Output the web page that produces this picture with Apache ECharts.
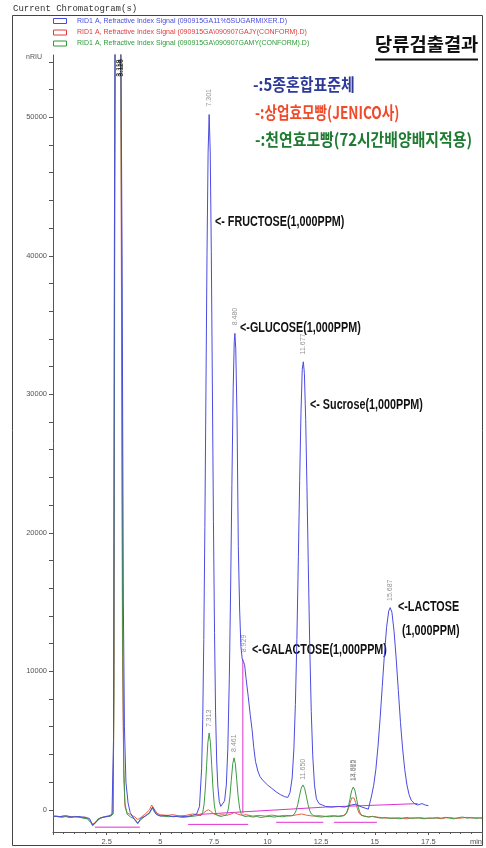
<!DOCTYPE html>
<html><head><meta charset="utf-8">
<script src="https://cdn.jsdelivr.net/npm/echarts@6/dist/echarts.min.js"></script>
<style>html,body{margin:0;padding:0;background:#fff}#c{width:486px;height:848px}</style>
</head><body><div id="c"></div>
<script>
// ---- axis ticks / labels ----
const yLabelValues = [0, 10000, 20000, 30000, 40000, 50000];
const yTickValues = [0,2000,4000,6000,8000,10000,12000,14000,16000,18000,20000,22000,24000,26000,28000,30000,32000,34000,36000,38000,40000,42000,44000,46000,48000,50000,52000,54000];

// ---- signals [time(min), nRIU] ----
const blueSignal = [[0,-450],[0.3,-500],[0.6,-420],[0.9,-520],[1.2,-480],[1.5,-550],[1.7,-620],[1.85,-1100],[2.0,-900],[2.2,-600],[2.4,-500],[2.6,-450],[2.75,-300],[2.82,5000],[2.86,40000],[2.9,60000],[3.15,60000],[3.22,40000],[3.28,15000],[3.33,6000],[3.4,2000],[3.5,500],[3.6,-200],[3.8,-700],[3.95,-1000],[4.1,-600],[4.3,-450],[4.5,-200],[4.65,200],[4.8,-300],[5.0,-450],[5.3,-400],[5.6,-500],[5.9,-450],[6.2,-500],[6.5,-400],[6.7,-300],[6.83,250],[6.93,3000],[6.98,6500],[7.03,12300],[7.08,20400],[7.13,30300],[7.18,40100],[7.23,47400],[7.28,50200],[7.33,47500],[7.38,40300],[7.43,30600],[7.48,20800],[7.53,12800],[7.58,7000],[7.63,3600],[7.68,1800],[7.75,600],[7.82,250],[7.9,300],[8.0,650],[8.08,1800],[8.15,4400],[8.22,9500],[8.28,15800],[8.34,23500],[8.4,30400],[8.45,33800],[8.48,34400],[8.52,33300],[8.58,28300],[8.64,19000],[8.7,14500],[8.76,11800],[8.82,10900],[8.87,10900],[8.93,10500],[9.0,9500],[9.1,8200],[9.2,6800],[9.28,5800],[9.36,4500],[9.44,3500],[9.55,2800],[9.65,2400],[9.8,2100],[10.0,1800],[10.2,1550],[10.4,1300],[10.6,1100],[10.8,950],[10.95,900],[11.05,1250],[11.15,2300],[11.23,4400],[11.3,7600],[11.37,12300],[11.44,18300],[11.5,23800],[11.56,28600],[11.62,31800],[11.67,32350],[11.72,31500],[11.78,28200],[11.84,23300],[11.9,17800],[11.97,11800],[12.04,7100],[12.11,3900],[12.19,1800],[12.28,800],[12.4,450],[12.55,350],[12.7,250],[13.0,200],[13.3,250],[13.6,200],[13.9,350],[14.1,400],[14.4,200],[14.7,50],[14.85,1000],[14.95,1770],[15.05,2900],[15.15,4550],[15.25,6600],[15.35,8900],[15.45,11200],[15.55,13150],[15.65,14350],[15.72,14600],[15.8,14270],[15.9,12900],[16.0,10900],[16.1,8600],[16.2,6300],[16.3,4400],[16.4,2900],[16.5,1800],[16.6,1100],[16.7,700],[16.85,450],[17.0,350],[17.2,450],[17.35,350],[17.5,300]];

const redSignal = [[0,-420],[0.25,-500],[0.5,-450],[0.75,-530],[1.0,-470],[1.25,-550],[1.5,-520],[1.7,-700],[1.85,-1050],[2.0,-850],[2.2,-600],[2.45,-480],[2.7,-420],[2.8,-250],[2.85,10000],[2.88,45000],[2.91,60000],[3.14,60000],[3.19,38000],[3.24,11000],[3.3,2500],[3.36,200],[3.45,-200],[3.6,-350],[3.8,-500],[3.95,-700],[4.1,-550],[4.3,-300],[4.5,0],[4.6,350],[4.7,100],[4.85,-250],[5.0,-350],[5.3,-400],[5.6,-350],[5.9,-450],[6.2,-400],[6.5,-300],[6.8,-350],[7.0,-250],[7.15,-50],[7.25,0],[7.35,-100],[7.5,-300],[7.7,-400],[7.9,-350],[8.1,-400],[8.3,-300],[8.45,-200],[8.6,-300],[8.8,-400],[9.0,-350],[9.3,-450],[9.6,-400],[9.9,-450],[10.2,-380],[10.5,-450],[10.8,-400],[11.1,-430],[11.4,-350],[11.6,-300],[11.8,-380],[12.1,-450],[12.4,-420],[12.7,-470],[13.0,-420],[13.3,-450],[13.55,-400],[13.62,-370],[13.7,-205],[13.78,125],[13.86,566],[13.93,874],[13.98,950],[14.04,842],[14.11,512],[14.19,75],[14.27,-234],[14.36,-393],[14.5,-450],[14.7,-500],[14.9,-470],[15.1,-520],[15.3,-560],[15.5,-600],[15.7,-580],[15.9,-620],[16.1,-560],[16.3,-620],[16.5,-650],[16.7,-580],[16.9,-600],[17.1,-560],[17.3,-600],[17.5,-620],[17.7,-580],[17.9,-600],[18.1,-640],[18.3,-580],[18.5,-560],[18.7,-600],[18.9,-620],[19.1,-580],[19.3,-540],[19.5,-600],[19.7,-560],[19.9,-600],[20.0,-580]];

const greenSignal = [[0,-500],[0.2,-450],[0.4,-550],[0.6,-480],[0.8,-560],[1.0,-500],[1.2,-520],[1.4,-600],[1.6,-650],[1.75,-900],[1.85,-1150],[1.95,-1000],[2.1,-650],[2.3,-550],[2.5,-500],[2.7,-450],[2.8,-300],[2.84,8000],[2.87,40000],[2.9,60000],[3.15,60000],[3.2,40000],[3.25,12000],[3.3,3000],[3.35,500],[3.45,-300],[3.6,-500],[3.8,-650],[3.95,-950],[4.1,-700],[4.3,-450],[4.5,-250],[4.62,150],[4.75,-200],[4.9,-400],[5.1,-450],[5.4,-500],[5.7,-450],[6.0,-550],[6.3,-500],[6.6,-450],[6.8,-400],[6.9,-410],[6.98,-190],[7.04,360],[7.1,1500],[7.16,3190],[7.22,4850],[7.28,5550],[7.34,4850],[7.4,3190],[7.46,1500],[7.52,360],[7.58,-190],[7.66,-410],[7.75,-450],[7.85,-480],[7.95,-420],[8.05,-400],[8.12,-250],[8.18,120],[8.25,990],[8.31,2100],[8.38,3330],[8.44,3750],[8.5,3330],[8.57,2100],[8.63,990],[8.7,120],[8.76,-250],[8.83,-400],[8.95,-480],[9.1,-450],[9.3,-520],[9.5,-480],[9.7,-550],[9.9,-500],[10.1,-470],[10.3,-520],[10.5,-480],[10.7,-500],[10.9,-450],[11.15,-420],[11.25,-310],[11.33,-70],[11.41,380],[11.49,990],[11.57,1560],[11.65,1800],[11.73,1560],[11.81,990],[11.89,380],[11.97,-70],[12.05,-310],[12.15,-420],[12.3,-480],[12.5,-520],[12.7,-480],[12.9,-500],[13.1,-450],[13.3,-480],[13.5,-450],[13.6,-390],[13.68,-235],[13.76,130],[13.84,740],[13.92,1370],[14.0,1650],[14.08,1370],[14.16,740],[14.24,130],[14.32,-235],[14.4,-390],[14.5,-450],[14.7,-520],[14.9,-480],[15.1,-550],[15.3,-600],[15.5,-550],[15.7,-620],[15.9,-580],[16.1,-650],[16.3,-600],[16.5,-550],[16.7,-620],[16.9,-580],[17.1,-600],[17.3,-650],[17.5,-580],[17.7,-620],[17.9,-560],[18.1,-600],[18.3,-540],[18.5,-600],[18.7,-650],[18.9,-560],[19.1,-520],[19.3,-600],[19.5,-550],[19.7,-620],[19.9,-580],[20.0,-600]];

// ---- integration baselines (magenta) ----
const baseSolvent = [[1.95,-1250],[4.05,-1250]];
const baseGreenFG = [[6.3,-1050],[9.1,-1050]];
const baseBlueMid = [[6.6,-350],[12.7,200]];
const baseBlueLac = [[12.7,200],[17.0,450]];
const dropGalactose = [[8.85,-250],[8.85,10900]];
const baseGreenSuc = [[10.4,-900],[12.6,-900]];
const baseGreen14 = [[13.1,-900],[15.1,-900]];

// ---- peak retention-time labels [time, value, text] ----
const solventPeakLabels = [[3.1,52900,'3.118'],[3.15,52900,'3.126']];
const peakLabels = [[7.29,50600,'7.301'],[8.48,34800,'8.480'],[8.9,11200,'8.929'],[11.67,32700,'11.677'],[15.7,14900,'15.687'],[7.29,5800,'7.313'],[8.44,4000,'8.461'],[11.65,2000,'11.650'],[13.97,1900,'13.985'],[14.02,1900,'14.012']];

// ---- annotations [time, value, text] (left-middle anchor) ----
const annotations = [[7.55,42400,'<- FRUCTOSE(1,000PPM)'],[8.72,34800,'<-GLUCOSE(1,000PPM)'],[11.98,29200,'<- Sucrose(1,000PPM)'],[9.28,11500,'<-GALACTOSE(1,000PPM)'],[16.08,14600,'<-LACTOSE'],[16.27,12900,'(1,000PPM)']];

// ---- legend texts ----
const legendTraces = ['RID1 A, Refractive Index Signal (090915GA11%5SUGARMIXER.D)','RID1 A, Refractive Index Signal (090915GA\\090907GAJY(CONFORM).D)','RID1 A, Refractive Index Signal (090915GA\\090907GAMY(CONFORM).D)'];
const legendKorean = ['-:5종혼합표준체','-:상업효모빵(JENICO사)','-:천연효모빵(72시간배양배지적용)'];
const titleText = '당류검출결과';

const C_BLUE='#4b4be0', C_RED='#e8604c', C_GREEN='#3f9a45', C_MAG='#e030d0';

const chart = echarts.init(document.getElementById('c'), null, {renderer:'canvas'});

function baseSeries(d){return {type:'line',data:d,symbol:'none',silent:true,lineStyle:{color:C_MAG,width:1},z:1};}

const option = {
  animation:false,
  backgroundColor:'#fff',
  grid:{left:53,right:4,top:55,bottom:16},
  xAxis:{type:'value',min:0,max:20,interval:2.5,
    axisLine:{onZero:false,lineStyle:{color:'#555',width:1}},
    axisTick:{show:true,length:3,lineStyle:{color:'#555'}},
    minorTick:{show:true,splitNumber:5,length:2,lineStyle:{color:'#555'}},
    splitLine:{show:false},
    axisLabel:{showMinLabel:false,fontSize:7.5,color:'#555',margin:6,fontFamily:'Liberation Sans, Arial',
      alignMaxLabel:'right',
      formatter:function(v){return v===20?'min':String(v);}}
  },
  yAxis:{type:'value',min:-1600,max:54500,
    axisLine:{show:true,lineStyle:{color:'#555',width:1}},
    axisTick:{show:true,length:4,customValues:yTickValues,lineStyle:{color:'#555'}},
    axisLabel:{customValues:yLabelValues,fontSize:7.5,color:'#555',margin:6,fontFamily:'Liberation Sans, Arial',
      formatter:function(v){return String(v);}},
    splitLine:{show:false}
  },
  series:[
    baseSeries(baseSolvent),baseSeries(baseGreenFG),baseSeries(baseBlueMid),baseSeries(baseBlueLac),
    baseSeries(dropGalactose),baseSeries(baseGreenSuc),baseSeries(baseGreen14),
    {type:'line',name:'red',data:redSignal,symbol:'none',lineStyle:{color:C_RED,width:1},z:2},
    {type:'line',name:'green',data:greenSignal,symbol:'none',lineStyle:{color:C_GREEN,width:1},z:3},
    {type:'line',name:'blue',data:blueSignal,symbol:'none',lineStyle:{color:C_BLUE,width:1},z:4},
    {type:'scatter',data:peakLabels,symbolSize:1,itemStyle:{color:'rgba(0,0,0,0)'},z:5,
      label:{show:true,position:'top',distance:2,rotate:90,align:'left',verticalAlign:'middle',
        fontSize:7,color:'#777',fontFamily:'Liberation Sans, Arial',formatter:function(p){return p.value[2];}}},
    {type:'scatter',data:solventPeakLabels,symbolSize:1,itemStyle:{color:'rgba(0,0,0,0)'},z:5,
      label:{show:true,position:'top',distance:0,rotate:90,align:'left',verticalAlign:'middle',
        fontSize:7,color:'#111',fontWeight:'bold',fontFamily:'Liberation Sans, Arial',formatter:function(p){return p.value[2];}}}
  ]
};
chart.setOption(option);

const els = [];
// outer frame
els.push({type:'rect',shape:{x:12.5,y:15.5,width:470,height:830},style:{fill:null,stroke:'#444',lineWidth:1},silent:true});
els.push({type:'text',x:13,y:9,style:{text:'Current Chromatogram(s)',font:'9px "Liberation Mono", "DejaVu Sans Mono", monospace',fill:'#333',align:'left',verticalAlign:'middle',textAlign:'left',textVerticalAlign:'middle'}});
const legCols=[C_BLUE,'#e03a3a','#2f9a3a'];
const legY=[21,32.5,43.5];
legendTraces.forEach(function(t,i){
  els.push({type:'rect',shape:{x:53.5,y:legY[i]-2.5,width:13,height:5},style:{fill:'#fff',stroke:legCols[i],lineWidth:1}});
  els.push({type:'text',x:77,y:legY[i],style:{text:t,font:'7px "Liberation Sans", Arial',fill:legCols[i],align:'left',verticalAlign:'middle',textAlign:'left',textVerticalAlign:'middle'}});
});
els.push({type:'text',x:26,y:57,style:{text:'nRIU',font:'7px "Liberation Sans", Arial',fill:'#555',align:'left',verticalAlign:'middle',textAlign:'left',textVerticalAlign:'middle'}});
// title
els.push({type:'text',x:375,y:44,scaleX:1.04,style:{text:titleText,font:'bold 18px "Noto Sans CJK KR"',fill:'#111',align:'left',verticalAlign:'middle',textAlign:'left',textVerticalAlign:'middle'}});
els.push({type:'line',shape:{x1:375,y1:59.5,x2:478,y2:59.5},style:{stroke:'#111',lineWidth:2}});
// korean legend
const korCols=['#2e3a9a','#f04a2a','#1f7a32'];
const korY=[85,113,140];
const korX=[253,255,255];
const korScale=[0.88,0.80,0.875];
legendKorean.forEach(function(t,i){
  els.push({type:'text',x:korX[i],y:korY[i],scaleX:korScale[i],style:{text:t,font:'bold 17px "Noto Sans CJK KR"',fill:korCols[i],align:'left',verticalAlign:'middle',textAlign:'left',textVerticalAlign:'middle'}});
});
// annotations anchored in data space
annotations.forEach(function(a){
  const p = chart.convertToPixel({gridIndex:0},[a[0],a[1]]);
  els.push({type:'text',x:p[0],y:p[1],scaleX:0.77,style:{text:a[2],font:'bold 14px "Liberation Sans", Arial',fill:'#111',align:'left',verticalAlign:'middle',textAlign:'left',textVerticalAlign:'middle'}});
});
chart.setOption({graphic:{elements:els}});
</script></body></html>
